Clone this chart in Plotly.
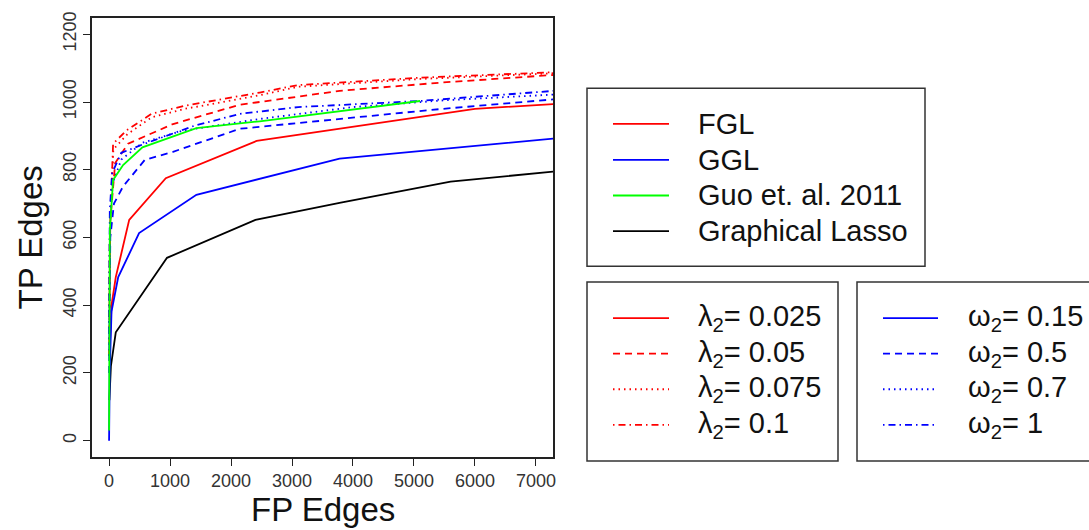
import plotly.graph_objects as go

# ---- data: true-positive vs false-positive edge counts ----
glasso_fp = [5, 30, 110, 950, 2400, 3800, 5600, 7300]
glasso_tp = [120, 220, 320, 540, 652, 703, 765, 795]

fgl_l0025_fp = [5, 40, 110, 330, 930, 2420, 6000, 7300]
fgl_l0025_tp = [250, 400, 483, 652, 775, 885, 980, 994]

fgl_l005_fp = [0, 20, 100, 312, 1049, 2146, 3782, 5421, 7300]
fgl_l005_tp = [250, 650, 820, 877, 935, 992, 1033, 1057, 1080]

fgl_l0075_fp = [0, 15, 70, 300, 700, 1250, 2470, 3100, 5100, 7300]
fgl_l0075_tp = [300, 620, 860, 905, 955, 980, 1020, 1045, 1068, 1085]

fgl_l01_fp = [0, 11, 66, 285, 695, 1241, 2470, 3100, 5100, 7300]
fgl_l01_tp = [350, 600, 877, 916, 965, 989, 1028, 1050, 1072, 1088]

ggl_w015_fp = [0, 10, 40, 150, 492, 1432, 3780, 7300]
ggl_w015_tp = [0, 200, 381, 483, 613, 726, 833, 892]

ggl_w05_fp = [0, 20, 80, 230, 585, 1049, 2146, 3782, 5421, 7300]
ggl_w05_tp = [200, 600, 700, 751, 829, 853, 921, 950, 979, 1008]

ggl_w07_fp = [0, 15, 60, 200, 550, 1200, 2470, 4000, 5500, 7300]
ggl_w07_tp = [250, 650, 760, 830, 880, 915, 950, 985, 1005, 1022]

ggl_w1_fp = [0, 12, 50, 200, 585, 1400, 2146, 3100, 5093, 7300]
ggl_w1_tp = [300, 680, 790, 850, 877, 930, 965, 985, 1003, 1033]

guo_fp = [0, 12, 66, 230, 547, 1432, 2470, 5100]
guo_tp = [30, 620, 770, 814, 866, 923, 943, 1003]

x_ticks = [0, 1000, 2000, 3000, 4000, 5000, 6000, 7000]
y_ticks = [0, 200, 400, 600, 800, 1000, 1200]

method_labels = ["FGL", "GGL", "Guo et. al. 2011", "Graphical Lasso"]
lambda_labels = ["0.025", "0.05", "0.075", "0.1"]
omega_labels = ["0.15", "0.5", "0.7", "1"]

# ---- styling ----
RED, BLUE, GREEN, BLACK = "#FF0000", "#0000FF", "#00FF00", "#000000"
DASHES = ["solid", "7px,5px", "1.5px,4px", "1.5px,4px,7px,4px"]
FONT = "Liberation Sans, Arial, Helvetica, sans-serif"
LW = 1.8

W, H = 1089, 530
PL, PR, PT, PB = 92, 553, 13, 457


def px(x):
    return (x - PL) / (PR - PL)


def py(y):
    return (PB - y) / (PB - PT)


fig = go.Figure()


def add_line(xs, ys, color, dash, name):
    fig.add_trace(go.Scatter(x=xs, y=ys, mode="lines", name=name,
                             line=dict(color=color, width=LW, dash=dash),
                             showlegend=False, hoverinfo="x+y+name"))


add_line(glasso_fp, glasso_tp, BLACK, "solid", "Graphical Lasso")
fgl_series = [(fgl_l0025_fp, fgl_l0025_tp), (fgl_l005_fp, fgl_l005_tp),
              (fgl_l0075_fp, fgl_l0075_tp), (fgl_l01_fp, fgl_l01_tp)]
for (xs, ys), d, lab in zip(fgl_series, DASHES, lambda_labels):
    add_line(xs, ys, RED, d, "FGL λ2=" + lab)
ggl_series = [(ggl_w015_fp, ggl_w015_tp), (ggl_w05_fp, ggl_w05_tp),
              (ggl_w07_fp, ggl_w07_tp), (ggl_w1_fp, ggl_w1_tp)]
for (xs, ys), d, lab in zip(ggl_series, DASHES, omega_labels):
    add_line(xs, ys, BLUE, d, "GGL ω2=" + lab)
add_line(guo_fp, guo_tp, GREEN, "solid", "Guo et. al. 2011")

shapes = []
annotations = []


def legend_box(x0, y0, x1, y1):
    shapes.append(dict(type="rect", xref="paper", yref="paper",
                       x0=px(x0), x1=px(x1), y0=py(y1), y1=py(y0),
                       line=dict(color="#333333", width=1.5), layer="above"))


def legend_row(xs0, xs1, xt, yc, color, dash, text):
    shapes.append(dict(type="line", xref="paper", yref="paper",
                       x0=px(xs0), x1=px(xs1), y0=py(yc), y1=py(yc),
                       line=dict(color=color, width=LW, dash=dash)))
    annotations.append(dict(xref="paper", yref="paper", x=px(xt), y=py(yc),
                            xanchor="left", yanchor="middle", showarrow=False,
                            text=text, font=dict(family=FONT, size=29, color="#111111")))


# method legend
legend_box(587, 84, 925, 264)
for lab, col, yc in zip(method_labels, [RED, BLUE, GREEN, BLACK], [120, 156.5, 192.5, 228.5]):
    legend_row(613, 669, 696, yc, col, "solid", lab)

rows = [316.5, 352.5, 388.5, 424.5]
# lambda legend
legend_box(587, 280, 838, 461)
for lab, d, yc in zip(lambda_labels, DASHES, rows):
    legend_row(613, 669, 696, yc, RED, d, "λ<sub>2</sub>= " + lab)
# omega legend
legend_box(857, 280, 1100, 461)
for lab, d, yc in zip(omega_labels, DASHES, rows):
    legend_row(883, 938, 966, yc, BLUE, d, "ω<sub>2</sub>= " + lab)

# axis titles
annotations.append(dict(xref="paper", yref="paper", x=px(322.5), y=py(510),
                        xanchor="center", yanchor="middle", showarrow=False,
                        text="FP Edges", font=dict(family=FONT, size=33, color="#111111")))
annotations.append(dict(xref="paper", yref="paper", x=px(30), y=py(235),
                        xanchor="center", yanchor="middle", showarrow=False, textangle=-90,
                        text="TP Edges", font=dict(family=FONT, size=33, color="#111111")))

axis_common = dict(showgrid=False, zeroline=False, showline=True, mirror=True,
                   linecolor="#222222", linewidth=1.5, ticks="outside", ticklen=7,
                   tickwidth=1.3, tickcolor="#222222",
                   tickfont=dict(family=FONT, size=18, color="#333333"))

fig.update_layout(
    width=W, height=H,
    margin=dict(l=PL, r=W - PR, t=PT, b=H - PB),
    paper_bgcolor="white", plot_bgcolor="white",
    showlegend=False,
    xaxis=dict(range=[-280, 7280], tickvals=x_ticks, ticktext=[str(v) for v in x_ticks],
               **axis_common),
    yaxis=dict(range=[-48, 1248], tickvals=y_ticks, ticktext=[str(v) for v in y_ticks],
               tickangle=-90, **axis_common),
    shapes=shapes,
    annotations=annotations,
)

fig.write_html("out.html")
